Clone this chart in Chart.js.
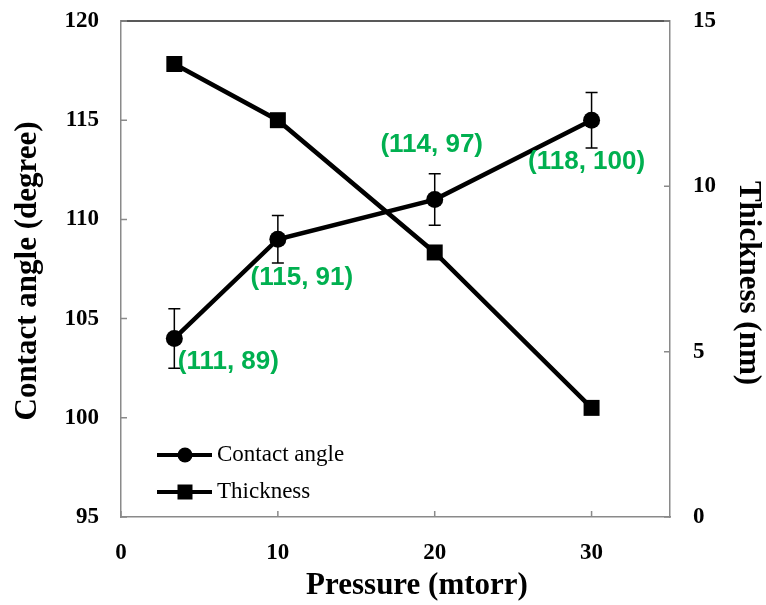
<!DOCTYPE html>
<html>
<head>
<meta charset="utf-8">
<script src="https://cdn.jsdelivr.net/npm/chart.js@4.4.1/dist/chart.umd.min.js"></script>
<style>
  html, body { margin: 0; padding: 0; background: #fff; }
  #wrap { width: 766px; height: 605px; }
</style>
</head>
<body>
<div id="wrap"><canvas id="chart" width="766" height="605"></canvas></div>
<script>
// Values
const pressure = [3.4, 10, 20, 30];
const contactAngle = [104, 109, 111, 115];
const angleError = [1.5, 1.2, 1.3, 1.4];
const thickness = [13.7, 12.0, 8.0, 3.3];
const pointNotes = ['(111, 89)', '(115, 91)', '(114, 97)', '(118, 100)'];

// Tick labels
const xTicks = [0, 10, 20, 30];
const angleTicks = [95, 100, 105, 110, 115, 120];
const thicknessTicks = [0, 5, 10, 15];

const SERIF = "'Liberation Serif', 'Times New Roman', serif";
const SANS = "'Liberation Sans', Arial, sans-serif";
const AXIS_GREY = '#8a8a8a';
const NOTE_GREEN = '#00b050';

const tickFont = { family: SERIF, size: 23, weight: 'bold' };

function fixedTicks(values) {
    return scale => { scale.ticks = values.map(v => ({ value: v })); };
}

// fixed scale widths, no extra label overflow padding
function fixWidth(w) {
    return s => { s.width = w; s.paddingTop = 0; s.paddingBottom = 0; };
}

// Error bars, frame, tick marks, titles, notes and legend
const extras = {
    id: 'extras',
    beforeDatasetsDraw(chart) {
        const ctx = chart.ctx;
        const xs = chart.scales.x, ys = chart.scales.y;
        ctx.save();
        ctx.strokeStyle = '#000';
        ctx.lineWidth = 1.5;
        pressure.forEach((p, i) => {
            const x = xs.getPixelForValue(p);
            const top = ys.getPixelForValue(contactAngle[i] + angleError[i]);
            const bot = ys.getPixelForValue(contactAngle[i] - angleError[i]);
            ctx.beginPath();
            ctx.moveTo(x, top); ctx.lineTo(x, bot);
            ctx.moveTo(x - 6, top); ctx.lineTo(x + 6, top);
            ctx.moveTo(x - 6, bot); ctx.lineTo(x + 6, bot);
            ctx.stroke();
        });
        ctx.restore();
    },
    afterDraw(chart, args, opts) {
        const ctx = chart.ctx;
        const area = chart.chartArea;
        const xs = chart.scales.x, ys = chart.scales.y, y1 = chart.scales.y1;
        ctx.save();

        // top frame line
        ctx.strokeStyle = '#222';
        ctx.lineWidth = 1.5;
        ctx.beginPath();
        ctx.moveTo(area.left, area.top); ctx.lineTo(area.right, area.top);
        ctx.stroke();

        // inward tick marks
        ctx.strokeStyle = AXIS_GREY;
        ctx.lineWidth = 1.5;
        ctx.beginPath();
        xTicks.forEach(v => {
            const x = xs.getPixelForValue(v);
            ctx.moveTo(x, area.bottom); ctx.lineTo(x, area.bottom - 6);
        });
        angleTicks.forEach(v => {
            const y = ys.getPixelForValue(v);
            ctx.moveTo(area.left, y); ctx.lineTo(area.left + 6, y);
        });
        thicknessTicks.forEach(v => {
            const y = y1.getPixelForValue(v);
            ctx.moveTo(area.right, y); ctx.lineTo(area.right - 6, y);
        });
        ctx.stroke();

        // axis titles
        ctx.fillStyle = '#000';
        ctx.font = `bold 31px ${SERIF}`;
        ctx.textAlign = 'center';
        ctx.textBaseline = 'middle';
        ctx.fillText('Pressure (mtorr)', 417, 586);
        ctx.save();
        ctx.translate(28, 271);
        ctx.rotate(-Math.PI / 2);
        ctx.fillText('Contact angle (degree)', 0, 0);
        ctx.restore();
        ctx.save();
        ctx.translate(748, 283);
        ctx.rotate(Math.PI / 2);
        ctx.fillText('Thickness (nm)', 0, 0);
        ctx.restore();

        // green point notes
        ctx.fillStyle = NOTE_GREEN;
        ctx.font = `bold 26px ${SANS}`;
        pointNotes.forEach((txt, i) => {
            const x = xs.getPixelForValue(pressure[i]) + opts.noteOffsets[i][0];
            const y = ys.getPixelForValue(contactAngle[i]) + opts.noteOffsets[i][1];
            ctx.fillText(txt, x, y);
        });

        // legend inside the plot
        const rows = [
            { label: 'Contact angle', style: 'circle', y: area.bottom - 62 },
            { label: 'Thickness', style: 'rect', y: area.bottom - 25 }
        ];
        const lx = area.left + 36;
        rows.forEach(r => {
            ctx.strokeStyle = '#000';
            ctx.fillStyle = '#000';
            ctx.lineWidth = 4;
            ctx.beginPath();
            ctx.moveTo(lx, r.y); ctx.lineTo(lx + 55, r.y);
            ctx.stroke();
            const mx = lx + 28;
            ctx.beginPath();
            if (r.style === 'circle') {
                ctx.arc(mx, r.y, 7.5, 0, Math.PI * 2);
            } else {
                ctx.rect(mx - 7.5, r.y - 7.5, 15, 15);
            }
            ctx.fill();
            ctx.font = `23px ${SERIF}`;
            ctx.textAlign = 'left';
            ctx.fillText(r.label, lx + 60, r.y);
        });

        ctx.restore();
    }
};

new Chart(document.getElementById('chart'), {
    type: 'line',
    data: {
        datasets: [
            {
                label: 'Contact angle',
                data: pressure.map((p, i) => ({ x: p, y: contactAngle[i] })),
                yAxisID: 'y',
                borderColor: '#000',
                backgroundColor: '#000',
                borderWidth: 4.5,
                pointStyle: 'circle',
                pointRadius: 8.5,
                pointBorderWidth: 0,
                tension: 0
            },
            {
                label: 'Thickness',
                data: pressure.map((p, i) => ({ x: p, y: thickness[i] })),
                yAxisID: 'y1',
                borderColor: '#000',
                backgroundColor: '#000',
                borderWidth: 4.5,
                pointStyle: 'rect',
                pointRadius: 11.3,
                pointBorderWidth: 0,
                tension: 0
            }
        ]
    },
    options: {
        responsive: false,
        animation: false,
        layout: { padding: { top: 21, right: 0, bottom: 0, left: 0 } },
        plugins: {
            legend: { display: false },
            tooltip: { enabled: false },
            extras: {
                noteOffsets: [[54, 23], [24, 39], [-3, -55], [-5, 42]]
            }
        },
        scales: {
            x: {
                type: 'linear',
                min: 0,
                max: 35,
                afterBuildTicks: fixedTicks(xTicks),
                afterFit: s => { s.height = 88; s.paddingLeft = 0; s.paddingRight = 0; },
                grid: { display: false, drawTicks: false },
                border: { display: true, color: AXIS_GREY, width: 1.5 },
                ticks: { font: tickFont, color: '#000', padding: 22, maxRotation: 0 }
            },
            y: {
                position: 'left',
                min: 95,
                max: 120,
                afterBuildTicks: fixedTicks(angleTicks),
                afterFit: fixWidth(121),
                grid: { display: false, drawTicks: false },
                border: { display: true, color: AXIS_GREY, width: 1.5 },
                ticks: { font: tickFont, color: '#000', padding: 22 }
            },
            y1: {
                position: 'right',
                min: 0,
                max: 15,
                afterBuildTicks: fixedTicks(thicknessTicks),
                afterFit: fixWidth(96),
                grid: { display: false, drawTicks: false },
                border: { display: true, color: AXIS_GREY, width: 1.5 },
                ticks: { font: tickFont, color: '#000', padding: 23 }
            }
        }
    },
    plugins: [extras]
});
</script>
</body>
</html>
